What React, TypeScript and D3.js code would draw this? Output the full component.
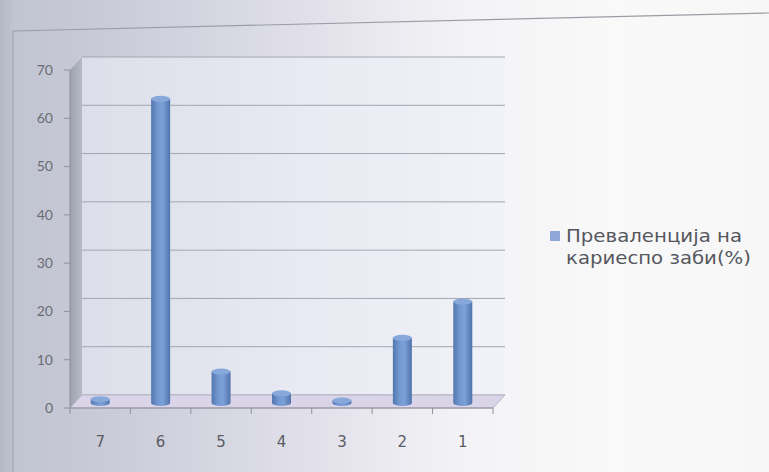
import React from "react";
import * as d3 from "d3";

const categories = ["7", "6", "5", "4", "3", "2", "1"];
const prevalence = [0.8, 63, 6.5, 2, 0.5, 13.5, 21];
const yTicks = [0, 10, 20, 30, 40, 50, 60, 70];
const legendLines = ["Преваленција на", "кариеспо заби(%)"];

const W = 769;
const H = 472;
const DX = 12; // depth offset x
const DY = -13; // depth offset y

export default function App() {
  const x = d3.scaleBand<string>().domain(categories).range([70, 493]).paddingInner(0).paddingOuter(0);
  const y = d3.scaleLinear().domain([0, 70]).range([408, 70]);
  const bw = 19;
  const barDy = -5;
  const ry = 3;
  const x0 = 70;
  const x1 = 493;

  return (
    <svg width={W} height={H} style={{ position: "absolute", left: 0, top: 0 }}>
      <defs>
        <linearGradient id="bg" x1="0" y1="0" x2="1" y2="0">
          <stop offset="0" stopColor="#b4b8c5" />
          <stop offset="0.02" stopColor="#c1c5d1" />
          <stop offset="0.15" stopColor="#caccd8" />
          <stop offset="0.4" stopColor="#e1e0ea" />
          <stop offset="0.6" stopColor="#f3f3f6" />
          <stop offset="0.8" stopColor="#f9f9f9" />
          <stop offset="1" stopColor="#f7f7f7" />
        </linearGradient>
        <linearGradient id="wall" x1="0" y1="0" x2="1" y2="0">
          <stop offset="0" stopColor="#dcdfe9" />
          <stop offset="0.6" stopColor="#eaebf3" />
          <stop offset="1" stopColor="#f2f3f8" />
        </linearGradient>
        <linearGradient id="side" x1="0" y1="0" x2="1" y2="0">
          <stop offset="0" stopColor="#9ea2ae" />
          <stop offset="1" stopColor="#b6bac6" />
        </linearGradient>
        <linearGradient id="cyl" x1="0" y1="0" x2="1" y2="0">
          <stop offset="0" stopColor="#5376ae" />
          <stop offset="0.35" stopColor="#7399d2" />
          <stop offset="0.6" stopColor="#7ca0d8" />
          <stop offset="1" stopColor="#5073ab" />
        </linearGradient>
      </defs>
      <rect x={0} y={0} width={W} height={H} fill="url(#bg)" />
      {/* outer border (photographed chart frame) */}
      <line x1={13} y1={31} x2={W} y2={13} stroke="#9a9da5" strokeWidth={1.2} />
      <line x1={13} y1={31} x2={13} y2={H} stroke="#a2a5ae" strokeWidth={1.2} />

      {/* back wall */}
      <rect x={x0 + DX} y={y(70) + DY} width={x1 - x0} height={y(0) - y(70)} fill="url(#wall)" />
      {/* side wall */}
      <polygon
        points={`${x0},${y(70)} ${x0 + DX},${y(70) + DY} ${x0 + DX},${y(0) + DY} ${x0},${y(0)}`}
        fill="url(#side)"
      />
      {/* gridlines on back wall */}
      {yTicks.map((t) => (
        <line
          key={t}
          x1={x0 + DX}
          x2={x1 + DX}
          y1={y(t) + DY}
          y2={y(t) + DY}
          stroke="#a3a5b0"
          strokeWidth={1}
        />
      ))}
      {/* floor */}
      <polygon
        points={`${x0},${y(0)} ${x0 + DX},${y(0) + DY} ${x1 + DX},${y(0) + DY} ${x1},${y(0)}`}
        fill="#d9d4e8"
        stroke="#b8b5c6"
        strokeWidth={1}
      />
      {/* y axis */}
      <line x1={x0} x2={x0} y1={y(70)} y2={y(0)} stroke="#8e909a" />
      {yTicks.map((t) => (
        <g key={t}>
          <line x1={x0 - 6} x2={x0} y1={y(t)} y2={y(t)} stroke="#8e909a" />
          <text
            x={53}
            y={y(t)}
            dy="0.35em"
            textAnchor="end"
            fontFamily="Lato, 'Open Sans', sans-serif"
            fontSize={14}
            fill="#6a6c74"
          >
            {t}
          </text>
        </g>
      ))}
      {/* x axis */}
      <line x1={x0} x2={x1} y1={y(0)} y2={y(0)} stroke="#8e909a" />
      {[...categories.map((c) => x(c) as number), x1].map((px, i) => (
        <line key={i} x1={px} x2={px} y1={y(0)} y2={y(0) + 6} stroke="#8e909a" />
      ))}
      {categories.map((c) => (
        <text
          key={c}
          x={(x(c) as number) + x.bandwidth() / 2}
          y={447}
          textAnchor="middle"
          fontFamily="'DejaVu Sans', sans-serif"
          fontSize={15}
          fill="#5a5c64"
        >
          {c}
        </text>
      ))}
      {/* cylinders */}
      {categories.map((c, i) => {
        const cx = (x(c) as number) + x.bandwidth() / 2;
        const base = y(0) + barDy;
        const top = y(prevalence[i]) + barDy;
        const l = cx - bw / 2;
        const r = cx + bw / 2;
        const h = Math.max(base - top, 0);
        return (
          <g key={c}>
            <path
              d={`M${l},${top} L${l},${base} A${bw / 2},${ry} 0 0 0 ${r},${base} L${r},${top} Z`}
              fill="url(#cyl)"
            />
            <ellipse cx={cx} cy={top} rx={bw / 2} ry={h < 2 ? 2 : ry} fill="#88a8dc" />
          </g>
        );
      })}
      {/* legend */}
      <rect x={550} y={231} width={10} height={10} fill="#8ea8da" />
      {legendLines.map((s, i) => (
        <text
          key={i}
          x={566}
          y={242 + i * 22}
          fontFamily="'DejaVu Sans', sans-serif"
          fontSize={17}
          fill="#55575e"
          textLength={i === 0 ? 176 : 185}
          lengthAdjust="spacingAndGlyphs"
        >
          {s}
        </text>
      ))}
    </svg>
  );
}
